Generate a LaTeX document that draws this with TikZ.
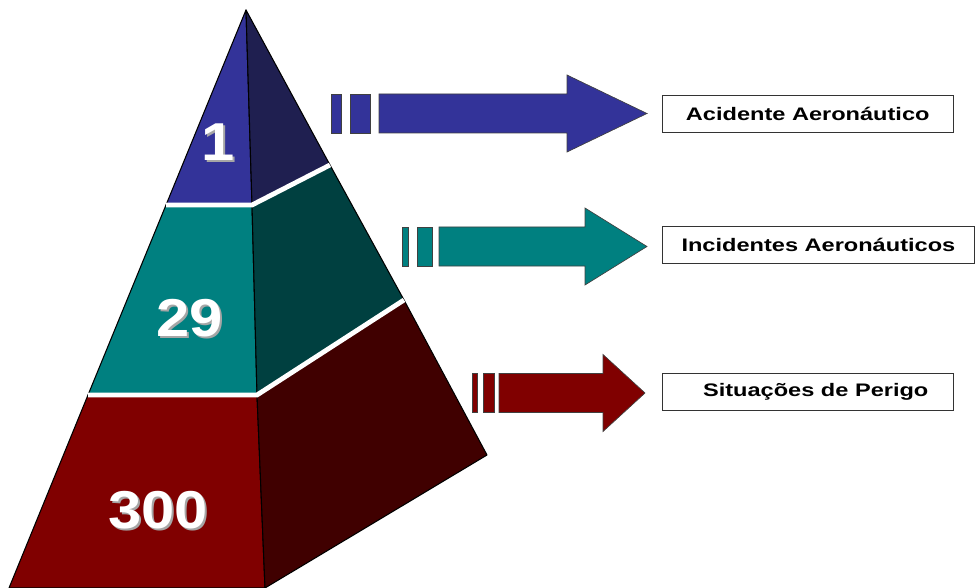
\documentclass[tikz,border=0pt]{standalone}
\usepackage{fontspec}
\setmainfont{Liberation Sans}
\newfontfamily\boxfont[FakeStretch=1.3]{Liberation Sans}
\newfontfamily\countfont[FakeStretch=1.12]{Liberation Sans}
\usetikzlibrary{calc}

\definecolor{topblue}{HTML}{333399}
\definecolor{topblueshade}{HTML}{1F1F50}
\definecolor{midteal}{HTML}{008080}
\definecolor{midtealshade}{HTML}{004040}
\definecolor{basered}{HTML}{800000}
\definecolor{baseredshade}{HTML}{400000}

\tikzset{
  face/.style={draw=black, line width=0.8pt, line join=round},
  gap/.style={draw=white, line width=3.6pt},
  count/.style={text=white, font=\countfont\bfseries\fontsize{40}{40}\selectfont},
  countshadow/.style={text=black!35, font=\countfont\bfseries\fontsize{40}{40}\selectfont},
  labelbox/.style={draw=black!80, line width=0.6pt, fill=white, anchor=west,
    minimum height=27.75pt, inner sep=0pt, font=\boxfont\bfseries\fontsize{13.6}{13.6}\selectfont},
  bar/.style={draw=black!75, line width=0.5pt}
}

\begin{document}
\begin{tikzpicture}[x=0.75pt, y=-0.75pt]
  \useasboundingbox (0, 0) rectangle (975, 588);
  % pyramid corners
  \coordinate (apex) at (246, 10);
  \coordinate (L1) at (166, 205);
  \coordinate (L2) at (88, 395);
  \coordinate (L3) at (9, 588);
  \coordinate (C1) at (252, 205);
  \coordinate (C2) at (257, 395);
  \coordinate (C3) at (265, 588);
  \coordinate (R1) at (330, 165);
  \coordinate (R2) at (404, 300);
  \coordinate (R3) at (487, 455);

  % faces
  \draw[face, fill=topblue] (apex) -- (L1) -- (C1) -- cycle;
  \draw[face, fill=topblueshade] (apex) -- (C1) -- (R1) -- cycle;
  \draw[face, fill=midteal] (L1) -- (L2) -- (C2) -- (C1) -- cycle;
  \draw[face, fill=midtealshade] (C1) -- (C2) -- (R2) -- (R1) -- cycle;
  \draw[face, fill=basered] (L2) -- (L3) -- (C3) -- (C2) -- cycle;
  \draw[face, fill=baseredshade] (C2) -- (C3) -- (R3) -- (R2) -- cycle;
  \draw[gap] (L1) -- (C1) -- (R1);
  \draw[gap] (L2) -- (C2) -- (R2);

  % counts
  \node[countshadow] at (220, 144) {1};
  \node[count] (n1) at (218, 142) {1};
  \node[countshadow] at (192, 320) {29};
  \node[count] (n29) at (190, 318) {29};
  \node[countshadow] at (160, 512) {300};
  \node[count] (n300) at (158, 510) {300};

  % arrows
  \foreach \cy/\ra/\rb/\rc/\rd/\sx/\hx/\tx/\col in
      {113.5/331/341/350/370/379/567/647/topblue,
       246.5/402/408/417/432/439/585/647/midteal,
       393/472/477/483/494/499/603/645/basered} {
    \draw[bar, fill=\col] (\ra, \cy-19.5) rectangle (\rb, \cy+19.5);
    \draw[bar, fill=\col] (\rc, \cy-19.5) rectangle (\rd, \cy+19.5);
    \draw[bar, fill=\col] (\sx, \cy-19.5) -- (\hx, \cy-19.5) -- (\hx, \cy-38.5)
      -- (\tx, \cy) -- (\hx, \cy+38.5) -- (\hx, \cy+19.5) -- (\sx, \cy+19.5) -- cycle;
  }

  % labels
  \node[labelbox, minimum width=218pt] (accident) at (662, 113.5) {Acidente Aeronáutico};
  \node[labelbox, minimum width=234pt] (incident) at (662, 244.5) {Incidentes Aeronáuticos};
  \node[labelbox, minimum width=218pt] (hazard) at (662, 392) {\hspace*{12pt}Situações de Perigo};
\end{tikzpicture}
\end{document}
